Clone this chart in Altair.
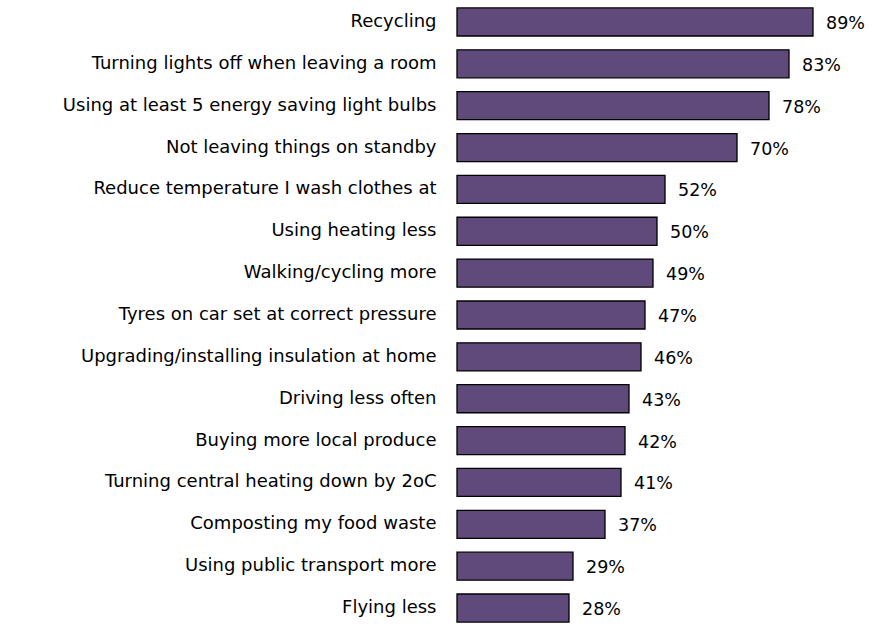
import altair as alt
import pandas as pd

categories = [
    "Recycling",
    "Turning lights off when leaving a room",
    "Using at least 5 energy saving light bulbs",
    "Not leaving things on standby",
    "Reduce temperature I wash clothes at",
    "Using heating less",
    "Walking/cycling more",
    "Tyres on car set at correct pressure",
    "Upgrading/installing insulation at home",
    "Driving less often",
    "Buying more local produce",
    "Turning central heating down by 2oC",
    "Composting my food waste",
    "Using public transport more",
    "Flying less",
]
values = [89, 83, 78, 70, 52, 50, 49, 47, 46, 43, 42, 41, 37, 29, 28]

df = pd.DataFrame({"item": categories, "value": values})
df["label"] = df["value"].astype(str) + "%"

FONT = "DejaVu Sans"
FS = 18

y = alt.Y(
    "item:N",
    sort=categories,
    title=None,
    scale=alt.Scale(paddingInner=0.33, paddingOuter=0.19),
    axis=alt.Axis(
        domain=False, ticks=False, labelPadding=21, labelFontSize=FS,
        labelFont=FONT, labelColor="#000000", labelLimit=460,
    ),
)
x = alt.X("value:Q", scale=alt.Scale(domain=[0, 100]), axis=None)

bars = alt.Chart(df).mark_bar(
    color="#604a7b", stroke="#000000", strokeWidth=1.3
).encode(x=x, y=y)

text = alt.Chart(df).mark_text(
    align="left", baseline="middle", dx=13, dy=2, fontSize=FS - 0.5, font=FONT, color="#000000"
).encode(x=x, y=alt.Y("item:N", sort=categories), text="label:N")

chart = (bars + text).properties(
    width=400, height=630,
    autosize=alt.AutoSizeParams(type="none"),
    padding={"left": 457, "top": 0, "right": 15, "bottom": 0},
).configure(background="#ffffff").configure_view(stroke=None, strokeWidth=0)

chart.save("out.html", embed_options={"renderer": "svg", "actions": False})
